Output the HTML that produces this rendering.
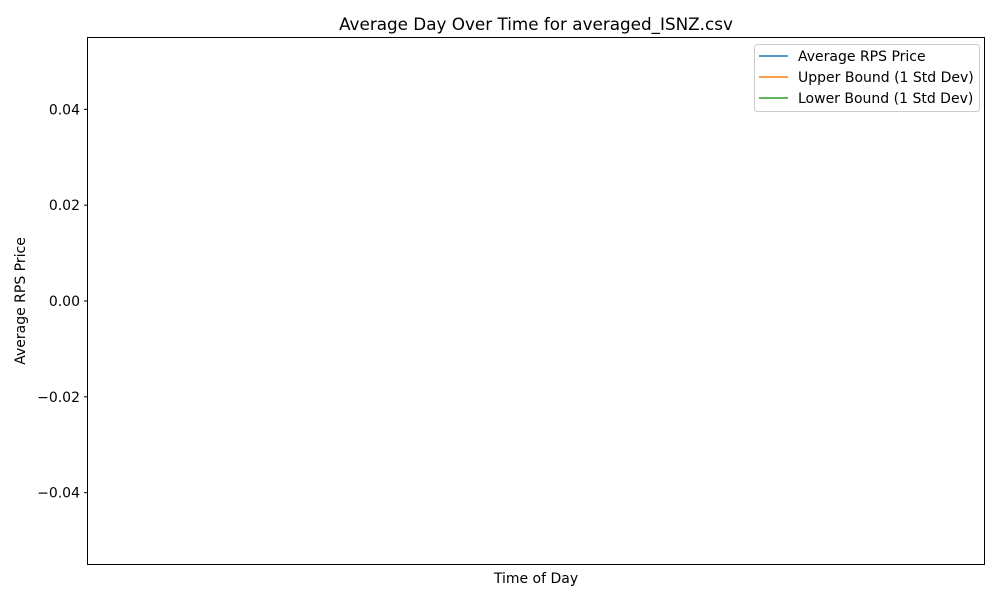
<!DOCTYPE html>
<html><head><meta charset="utf-8">
<style>
html,body{margin:0;padding:0;background:#fff;}
svg{display:block;font-family:"DejaVu Sans","Liberation Sans",sans-serif;}
</style></head>
<body>
<svg id="chart" width="1000" height="600" viewBox="0 0 1000 600">
<rect x="0" y="0" width="1000" height="600" fill="#fff"/>
<text x="536" y="30" font-size="16.8" text-anchor="middle" fill="#000">Average Day Over Time for averaged_ISNZ.csv</text>
<g id="ticks"></g>
<g id="series"></g>
<rect x="87.5" y="37.5" width="897" height="527" fill="none" stroke="#000" stroke-width="1"/>
<text x="536" y="583" font-size="14" text-anchor="middle" fill="#000">Time of Day</text>
<text transform="translate(25,301) rotate(-90)" font-size="14" text-anchor="middle" fill="#000">Average RPS Price</text>
<g>
<rect x="754.5" y="44.5" width="225" height="67" rx="3" fill="#fff" fill-opacity="0.8" stroke="#ccc"/>
<g><line x1="759" y1="56" x2="788" y2="56" stroke="#1f77b4" stroke-width="1.5"/><text x="798" y="61" font-size="14">Average RPS Price</text></g>
<g><line x1="759" y1="77" x2="788" y2="77" stroke="#ff7f0e" stroke-width="1.5"/><text x="798" y="82" font-size="14">Upper Bound (1 Std Dev)</text></g>
<g><line x1="759" y1="98" x2="788" y2="98" stroke="#2ca02c" stroke-width="1.5"/><text x="798" y="103" font-size="14">Lower Bound (1 Std Dev)</text></g>
</g>
</svg>
<script>
const times = [];
const avgValues = [];
const upperValues = [];
const lowerValues = [];
const yTicks = [0.04, 0.02, 0.00, -0.02, -0.04];
const yTickLabels = ["0.04", "0.02", "0.00", "\u22120.02", "\u22120.04"];

const NS = "http://www.w3.org/2000/svg";
const yMin = -0.055, yMax = 0.055;
function yScale(v){ return 564.5 - (v - yMin) / (yMax - yMin) * 527; }
function xScale(i){ const n = Math.max(times.length - 1, 1); return 87.5 + 41 + i / n * (897 - 82); }

const tg = document.getElementById("ticks");
yTicks.forEach((t, i) => {
  const y = yScale(t);
  const l = document.createElementNS(NS, "line");
  l.setAttribute("x1", 84); l.setAttribute("x2", 87.5);
  l.setAttribute("y1", y); l.setAttribute("y2", y);
  l.setAttribute("stroke", "#000");
  
  
  tg.appendChild(l);
  const tx = document.createElementNS(NS, "text");
  tx.setAttribute("x", 80); tx.setAttribute("y", y + 5);
  tx.setAttribute("text-anchor", "end"); tx.setAttribute("font-size", "14");
  tx.textContent = yTickLabels[i];
  
  
  tg.appendChild(tx);
});

const sg = document.getElementById("series");
[[avgValues, "#1f77b4", "average-line"], [upperValues, "#ff7f0e", "upper-bound-line"], [lowerValues, "#2ca02c", "lower-bound-line"]].forEach(([vals, col, name]) => {
  if (!vals.length) return;
  const p = document.createElementNS(NS, "polyline");
  p.setAttribute("points", vals.map((v, i) => xScale(i) + "," + yScale(v)).join(" "));
  p.setAttribute("fill", "none"); p.setAttribute("stroke", col); p.setAttribute("stroke-width", "1.5");
  
  
  sg.appendChild(p);
});
</script>
</body></html>
